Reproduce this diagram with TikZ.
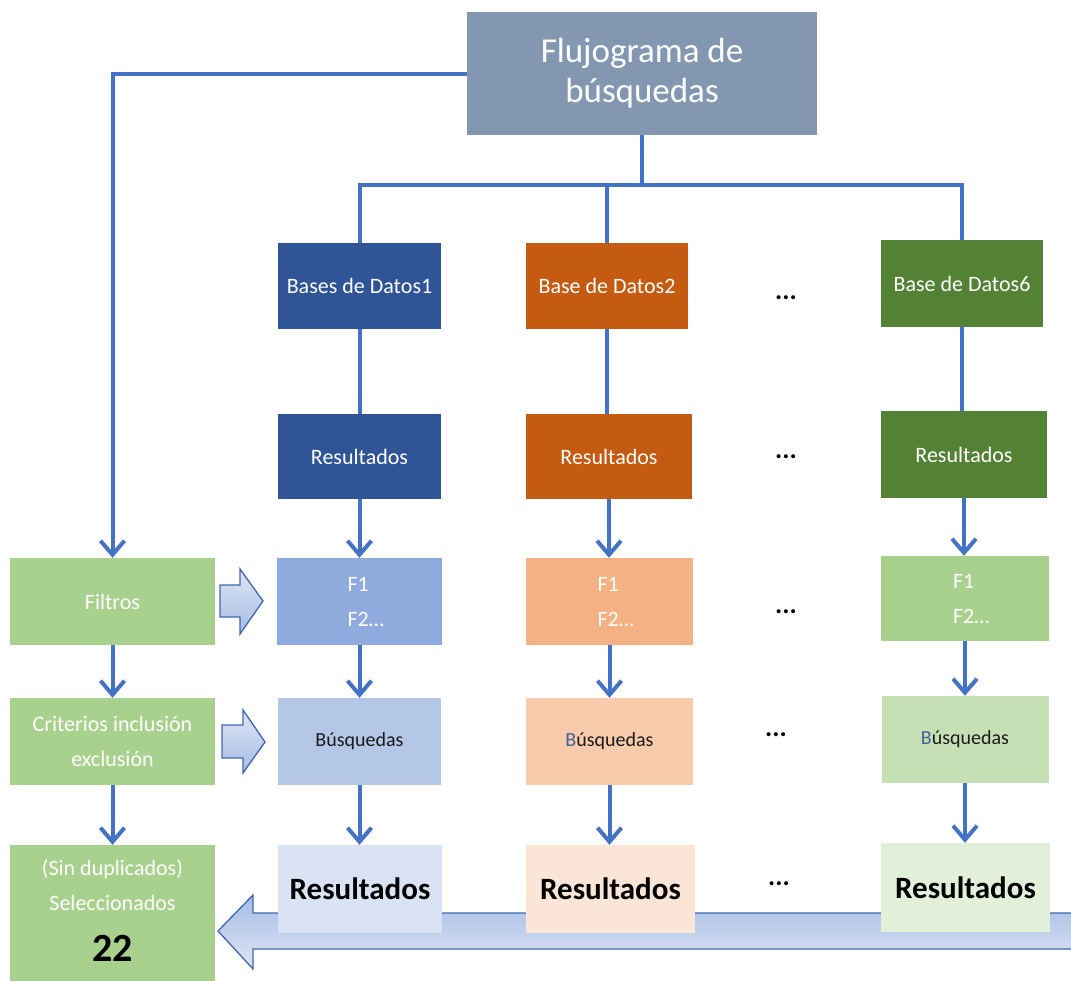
\documentclass[tikz,border=0pt]{standalone}
\usepackage{fontspec}
\setmainfont{Carlito}
\usetikzlibrary{arrows.meta}
\definecolor{conncol}{HTML}{4472C4}
\definecolor{topcol}{HTML}{8497B0}
\definecolor{bA}{HTML}{2F5597}\definecolor{bB}{HTML}{8FAADC}\definecolor{bC}{HTML}{B4C7E7}\definecolor{bD}{HTML}{DAE3F3}
\definecolor{oA}{HTML}{C55A11}\definecolor{oB}{HTML}{F4B183}\definecolor{oC}{HTML}{F8CBAD}\definecolor{oD}{HTML}{FBE5D6}
\definecolor{gA}{HTML}{548235}\definecolor{gB}{HTML}{A9D18E}\definecolor{gC}{HTML}{C5E0B4}\definecolor{gD}{HTML}{E2F0D9}
\definecolor{bletter}{HTML}{44609E}
\definecolor{txtdark}{HTML}{1A1A1A}
\definecolor{arrowedge}{HTML}{3F67B0}
\definecolor{shadeA}{HTML}{A6BCE3}
\definecolor{shadeB}{HTML}{DDE6F5}
\tikzset{
  box/.style={rectangle, inner sep=0pt, align=center, text=white,
              font=\fontsize{22}{35}\selectfont},
  fbox/.style={box, text width=24pt, align=left},
  darkbox/.style={box, text=txtdark, font=\fontsize{20}{30}\selectfont},
  resbox/.style={box, text=black, font=\fontsize{31}{36}\selectfont\bfseries},
  conn/.style={draw=conncol, line width=4pt},
  arr/.style={conn, -{Straight Barb[length=14pt,width=24pt]}},
  dots/.style={inner sep=0pt, font=\fontsize{27}{30}\selectfont\bfseries},
  blockarrow/.style={draw=arrowedge, line width=1.3pt, line join=miter},
}
\begin{document}
\begin{tikzpicture}[x=1pt,y=-1pt]
\useasboundingbox (0,0) rectangle (1071,980);
\clip (0,0) rectangle (1071,980);

% big return arrow (behind the boxes)
\path[blockarrow, top color=shadeA, bottom color=shadeB]
  (1090,913) -- (253,913) -- (253,895) -- (218,931) -- (253,969) -- (253,949) -- (1090,949) -- cycle;

% title
\node[box, fill=topcol, minimum width=350pt, minimum height=123pt,
      font=\fontsize{35}{40}\selectfont] (top) at (642,73.5) {Flujograma de\\búsquedas};
\coordinate (bar) at (642,185);

% column 1
\node[box, fill=bA, minimum width=163pt, minimum height=86pt] (db1) at (359.5,286) {Bases de Datos1};
\node[box, fill=bA, minimum width=163pt, minimum height=85pt] (r1) at (359.5,456.5) {Resultados};
\node[fbox, fill=bB, minimum width=165pt, minimum height=87pt] (f1) at (359.5,601.5) {F1\\F2…};
\node[darkbox, fill=bC, minimum width=163pt, minimum height=87pt] (b1) at (359.5,741.5) {Búsquedas};
\node[resbox, fill=bD, minimum width=164pt, minimum height=88pt] (R1) at (360,889) {Resultados};

% column 2
\node[box, fill=oA, minimum width=162pt, minimum height=86pt] (db2) at (607,286) {Base de Datos2};
\node[box, fill=oA, minimum width=166pt, minimum height=85pt] (r2) at (609,456.5) {Resultados};
\node[fbox, fill=oB, minimum width=167pt, minimum height=87pt] (f2) at (609.5,601.5) {F1\\F2…};
\node[darkbox, fill=oC, minimum width=167pt, minimum height=87pt] (b2) at (609.5,741.5) {{\color{bletter}B}úsquedas};
\node[resbox, fill=oD, minimum width=169pt, minimum height=88pt] (R2) at (610.5,889) {Resultados};

% column 6
\node[box, fill=gA, minimum width=162pt, minimum height=87pt] (db6) at (962,283.5) {Base de Datos6};
\node[box, fill=gA, minimum width=166pt, minimum height=87pt] (r6) at (964,454.5) {Resultados};
\node[fbox, fill=gB, minimum width=168pt, minimum height=85pt] (f6) at (965,598.5) {F1\\F2…};
\node[darkbox, fill=gC, minimum width=167pt, minimum height=87pt] (b6) at (965,739.5) {{\color{bletter}B}úsquedas};
\node[resbox, fill=gD, minimum width=169pt, minimum height=89pt] (R6) at (965.5,887.5) {Resultados};

% ellipses
\node[dots] (d1) at (786,298) {...};
\node[dots] (d2) at (786,457) {...};
\node[dots] (d3) at (786,612) {...};
\node[dots] (d4) at (776,735) {...};
\node[dots] (d5) at (779,884) {...};

% left column
\node[box, fill=gB, minimum width=205pt, minimum height=87pt] (filt) at (112.5,601.5) {Filtros};
\node[box, fill=gB, minimum width=205pt, minimum height=87pt] (crit) at (112.5,741.5) {Criterios inclusión\\exclusión};
\node[box, fill=gB, minimum width=205pt, minimum height=140pt] (sel) at (112.5,915) {};
\node[box, inner sep=0pt] (seltxt) at (112.5,885.5) {(Sin duplicados)\\Seleccionados};
\node[inner sep=0pt, font=\fontsize{40}{44}\selectfont\bfseries] (seln) at (112.5,948) {22};

% small block arrows
\path[blockarrow, top color=shadeB, bottom color=shadeA]
  (220,585) -- (240,585) -- (240,569) -- (263,601) -- (240,634) -- (240,617) -- (220,617) -- cycle;
\path[blockarrow, top color=shadeB, bottom color=shadeA]
  (222,725) -- (243,725) -- (243,710) -- (265,742) -- (243,773) -- (243,758) -- (222,758) -- cycle;

% connectors
\draw[arr] (top.west) -| (filt.north);
\draw[conn] (top.south) -- (bar);
\draw[conn] (db1.north) |- (bar) -| (db6.north);
\draw[conn] (db2.north) -- (db2.north |- bar);

\foreach \c in {1,2,6}{
  \draw[conn] (db\c.south) -- (db\c.south |- r\c.north);
  \draw[arr] (r\c.south) -- (r\c.south |- f\c.north);
  \draw[arr] (f\c.south) -- (f\c.south |- b\c.north);
  \draw[arr] (b\c.south) -- (b\c.south |- R\c.north);
}
\draw[arr] (filt.south) -- (crit.north);
\draw[arr] (crit.south) -- (sel.north);
\end{tikzpicture}
\end{document}
